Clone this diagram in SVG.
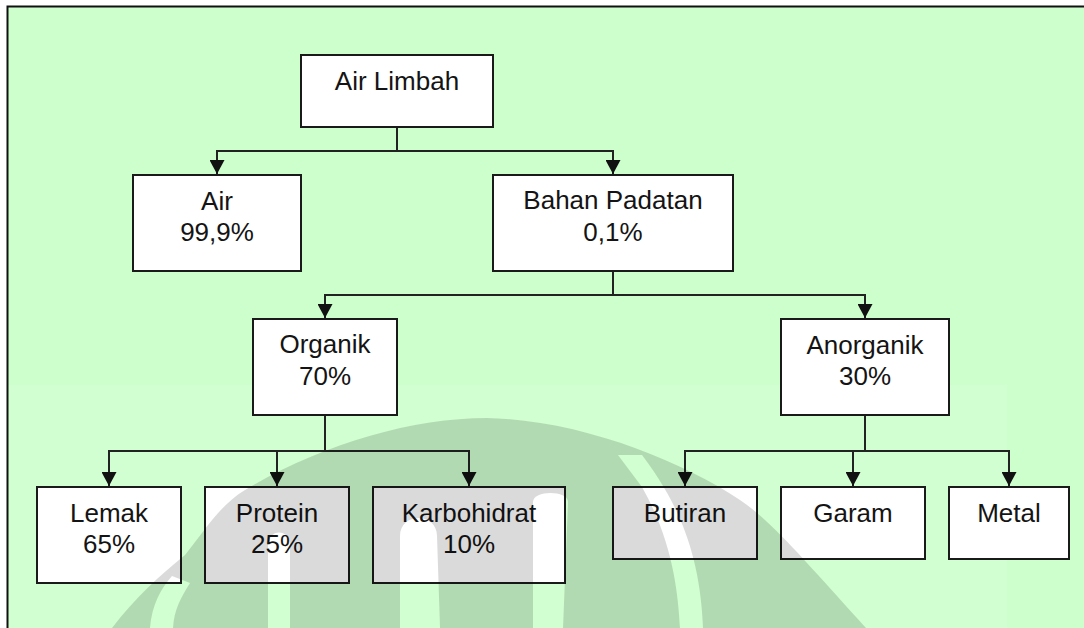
<svg xmlns="http://www.w3.org/2000/svg" width="1084" height="628" viewBox="0 0 1084 628">
  <style>
    .box { fill: #ffffff; stroke: #1a1a1a; stroke-width: 2; }
    .lbl { font-family: "Liberation Sans", Arial, sans-serif; font-size: 26px; fill: #141414; text-anchor: middle; }
    .con { fill: none; stroke: #222222; stroke-width: 2; }
  </style>
  <defs>
    <marker id="arr" viewBox="0 0 14 15" refX="14" refY="7.5" markerWidth="14" markerHeight="15" markerUnits="userSpaceOnUse" orient="auto">
      <path d="M0,0 L14,7.5 L0,15 Z" fill="#111111"/>
    </marker>
    <mask id="wm" maskUnits="userSpaceOnUse" x="0" y="0" width="1084" height="628">
      <path fill="#fff" d="M112,628 C135,598 160,575 185,555 C205,530 220,505 245,490 C320,445 410,418 487,418 C580,420 680,460 740,500 C770,520 800,555 866,628 Z"/>
      <g fill="#000">
        <path d="M150,628 C152,605 160,590 172,576 L190,583 C181,597 174,610 173,628 Z"/>
        <path d="M268,628 L268,546 C268,528 290,528 290,546 L290,628 Z"/>
        <path d="M400,628 L400,536 C400,512 437,512 437,536 L440,628 Z"/>
        <path d="M533,628 L533,502 C533,490 568,490 568,502 L563,628 Z"/>
        <path d="M680,628 C678,590 672,540 642,487 L618,455 L642,455 C668,490 700,540 703,628 Z"/>
      </g>
    </mask>
  </defs>

  <rect x="0" y="0" width="1084" height="628" fill="#ffffff"/>
  <rect x="8" y="7" width="1076" height="621" fill="#ccffcc"/>
  <rect x="8" y="385" width="999" height="243" fill="#ffffff" opacity="0.1"/>
  <path d="M7.5,628 V6.5 H1084" fill="none" stroke="#111111" stroke-width="2"/>

  <g id="connectors">
    <path class="con" d="M397,127 V151"/>
    <path class="con" marker-end="url(#arr)" d="M397,151 H217 V174"/>
    <path class="con" marker-end="url(#arr)" d="M397,151 H613 V174"/>
    <path class="con" d="M613,271 V295"/>
    <path class="con" marker-end="url(#arr)" d="M613,295 H325 V318"/>
    <path class="con" marker-end="url(#arr)" d="M613,295 H865 V318"/>
    <path class="con" d="M325,415 V451"/>
    <path class="con" marker-end="url(#arr)" d="M325,451 H109 V486"/>
    <path class="con" marker-end="url(#arr)" d="M325,451 H277 V486"/>
    <path class="con" marker-end="url(#arr)" d="M325,451 H469 V486"/>
    <path class="con" d="M865,415 V451"/>
    <path class="con" marker-end="url(#arr)" d="M865,451 H685 V486"/>
    <path class="con" marker-end="url(#arr)" d="M865,451 H853 V486"/>
    <path class="con" marker-end="url(#arr)" d="M865,451 H1009 V486"/>
  </g>

  <g id="n-air-limbah">
    <rect class="box" x="301" y="55" width="192" height="72"/>
    <text class="lbl" x="397" y="90">Air Limbah</text>
  </g>
  <g id="n-air">
    <rect class="box" x="133" y="175" width="168" height="96"/>
    <text class="lbl" x="217" y="210">Air</text>
    <text class="lbl" x="217" y="241">99,9%</text>
  </g>
  <g id="n-bahan-padatan">
    <rect class="box" x="493" y="175" width="240" height="96"/>
    <text class="lbl" x="613" y="209">Bahan Padatan</text>
    <text class="lbl" x="613" y="241">0,1%</text>
  </g>
  <g id="n-organik">
    <rect class="box" x="253" y="319" width="144" height="96"/>
    <text class="lbl" x="325" y="353">Organik</text>
    <text class="lbl" x="325" y="385">70%</text>
  </g>
  <g id="n-anorganik">
    <rect class="box" x="781" y="319" width="168" height="96"/>
    <text class="lbl" x="865" y="354">Anorganik</text>
    <text class="lbl" x="865" y="385">30%</text>
  </g>
  <g id="n-lemak">
    <rect class="box" x="37" y="487" width="144" height="96"/>
    <text class="lbl" x="109" y="522">Lemak</text>
    <text class="lbl" x="109" y="553">65%</text>
  </g>
  <g id="n-protein">
    <rect class="box" x="205" y="487" width="144" height="96"/>
    <text class="lbl" x="277" y="522">Protein</text>
    <text class="lbl" x="277" y="553">25%</text>
  </g>
  <g id="n-karbohidrat">
    <rect class="box" x="373" y="487" width="192" height="96"/>
    <text class="lbl" x="469" y="522">Karbohidrat</text>
    <text class="lbl" x="469" y="553">10%</text>
  </g>
  <g id="n-butiran">
    <rect class="box" x="613" y="487" width="144" height="72"/>
    <text class="lbl" x="685" y="522">Butiran</text>
  </g>
  <g id="n-garam">
    <rect class="box" x="781" y="487" width="144" height="72"/>
    <text class="lbl" x="853" y="522">Garam</text>
  </g>
  <g id="n-metal">
    <rect class="box" x="949" y="487" width="120" height="72"/>
    <text class="lbl" x="1009" y="522">Metal</text>
  </g>

  <rect id="watermark" x="0" y="0" width="1084" height="628" fill="#000" opacity="0.14" mask="url(#wm)"/>
</svg>
